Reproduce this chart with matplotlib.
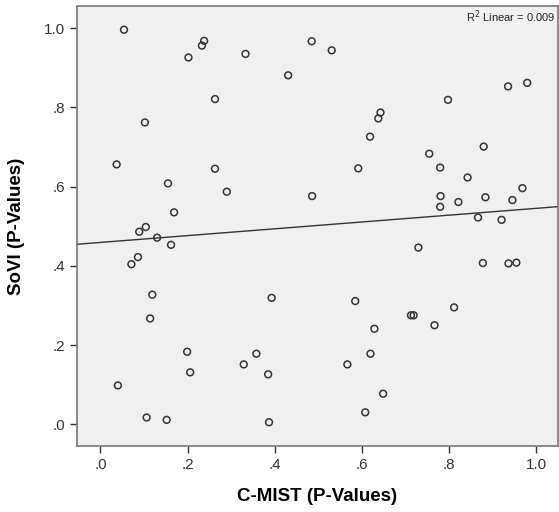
import matplotlib
matplotlib.use('Agg')
import matplotlib.pyplot as plt
import numpy as np

plt.rcParams['font.family'] = ['Liberation Sans', 'DejaVu Sans']

# C-MIST p-values (x) and SoVI p-values (y)
cmist = [0.054, 0.238, 0.233, 0.202, 0.263, 0.102, 0.333, 0.485, 0.531, 0.431,
         0.643, 0.638, 0.619, 0.936, 0.980, 0.798, 0.880, 0.755, 0.037, 0.263,
         0.155, 0.290, 0.169, 0.104, 0.089, 0.130, 0.162, 0.086, 0.071, 0.119,
         0.592, 0.486, 0.393, 0.585, 0.780, 0.843, 0.969, 0.781, 0.884, 0.822,
         0.946, 0.780, 0.867, 0.921, 0.730, 0.878, 0.937, 0.955, 0.812, 0.114,
         0.199, 0.206, 0.040, 0.106, 0.152, 0.629, 0.358, 0.620, 0.329, 0.567,
         0.385, 0.649, 0.608, 0.387, 0.713, 0.719, 0.767]
sovi = [0.996, 0.968, 0.956, 0.926, 0.821, 0.762, 0.935, 0.967, 0.944, 0.881,
        0.787, 0.772, 0.726, 0.853, 0.862, 0.819, 0.701, 0.683, 0.656, 0.645,
        0.608, 0.587, 0.535, 0.498, 0.486, 0.471, 0.453, 0.422, 0.404, 0.327,
        0.646, 0.576, 0.319, 0.311, 0.648, 0.623, 0.596, 0.576, 0.573, 0.561,
        0.566, 0.549, 0.522, 0.516, 0.446, 0.407, 0.406, 0.408, 0.295, 0.267,
        0.183, 0.131, 0.098, 0.017, 0.011, 0.241, 0.178, 0.178, 0.151, 0.151,
        0.126, 0.077, 0.030, 0.005, 0.275, 0.275, 0.250]

# fit line as drawn in the reference
fit_intercept = 0.459
fit_slope = 0.086
r2_text = 'R$^2$ Linear = 0.009'

ticks = [0.0, 0.2, 0.4, 0.6, 0.8, 1.0]
tick_labels = ['.0', '.2', '.4', '.6', '.8', '1.0']

fig = plt.figure(figsize=(5.59, 5.12), dpi=100)
fig.patch.set_facecolor('white')
ax = fig.add_axes([0.1377, 0.1289, 0.86, 0.8594])
ax.set_facecolor('#f0f0f0')

ax.scatter(cmist, sovi, s=24, facecolors='none', edgecolors='#333333',
           linewidths=1.1, zorder=3)

xl = (-0.054, 1.05)
xs = np.array(xl)
ax.plot(xs, fit_intercept + fit_slope * xs, color='#333333', lw=1.0, zorder=2)

ax.set_xlim(*xl)
ax.set_ylim(-0.055, 1.056)
ax.set_xticks(ticks)
ax.set_xticklabels(tick_labels)
ax.set_yticks(ticks)
ax.set_yticklabels(tick_labels)
ax.tick_params(direction='out', length=5, width=1, color='#333333',
               labelsize=11, labelcolor='#333333')
for s in ax.spines.values():
    s.set_color('#777777')
    s.set_linewidth(1.2)

ax.set_xlabel('C-MIST (P-Values)', fontsize=13.5, fontweight='bold', labelpad=12)
ax.set_ylabel('SoVI (P-Values)', fontsize=13.5, fontweight='bold', labelpad=14)

ax.text(0.995, 0.975, r2_text, transform=ax.transAxes, ha='right', va='center',
        fontsize=8, color='#222222')

fig.savefig('out.png', dpi=100, facecolor='white')
